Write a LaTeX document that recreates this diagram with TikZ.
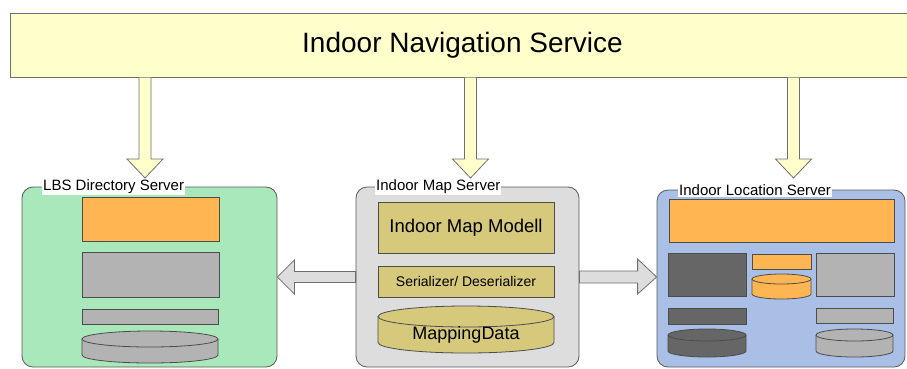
\documentclass[tikz,border=0pt]{standalone}
\usepackage{fontspec}
\setmainfont{Liberation Sans}
\usetikzlibrary{calc}
\definecolor{barY}{HTML}{FFFFCC}
\definecolor{bordG}{HTML}{6E6E6E}
\definecolor{lbsG}{HTML}{A8E8BA}
\definecolor{imsG}{HTML}{DDDDDD}
\definecolor{ilsB}{HTML}{AABFE5}
\definecolor{orng}{HTML}{FFB652}
\definecolor{khak}{HTML}{D6C97C}
\definecolor{gryL}{HTML}{B3B3B3}
\definecolor{gryD}{HTML}{666666}
\tikzset{
  px/.style={x=1pt,y=-1pt},
  server/.style={draw=bordG!80!black,line width=0.8pt,rounded corners=11pt,inner sep=0pt},
  srvlabel/.style={fill=white,inner sep=1pt,anchor=west,font=\fontsize{15}{15}\selectfont},
  part/.style={draw=black!70,line width=0.8pt,inner sep=0pt},
  barrow/.style={draw=bordG,line width=0.8pt,fill=imsG,line join=miter},
  darrow/.style={draw=bordG,line width=0.8pt,fill=barY,line join=miter},
  cylline/.style={draw=black!70,line width=0.8pt}
}
% cylinder: name, x1, x2, ytop-center, ybottom-center, ry, fill
\newcommand{\drumshape}[7]{%
  \pgfmathsetmacro{\rxx}{(#3-#2)/2}%
  \pgfmathsetmacro{\cxx}{(#3+#2)/2}%
  \fill[#7] (#2,#4) -- (#2,#5) arc[start angle=180,end angle=360,x radius=\rxx pt,y radius=#6 pt] -- (#3,#4) -- cycle;
  \draw[cylline] (#2,#4) -- (#2,#5) arc[start angle=180,end angle=360,x radius=\rxx pt,y radius=#6 pt] -- (#3,#4);
  \draw[cylline,fill=#7] (\cxx,#4) ellipse[x radius=\rxx pt,y radius=#6 pt];
  \coordinate (#1) at (\cxx,{(#4+#5)/2});
}
\begin{document}
\begin{tikzpicture}[px]
\useasboundingbox (0,0) rectangle (907,368);
% top bar
\node[draw=bordG,line width=1pt,fill=barY,minimum width=905pt,minimum height=64pt,inner sep=0pt,
      font=\fontsize{28}{28}\selectfont] (nav) at (462.5,45) {Indoor Navigation Service};

% servers
\node[server,fill=lbsG,minimum width=255pt,minimum height=180pt] (lbs) at (149.5,277) {};
\node[server,fill=imsG,minimum width=223pt,minimum height=180pt] (ims) at (467.5,277) {};
\node[server,fill=ilsB,minimum width=248pt,minimum height=177pt] (ils) at (781,278.5) {};

\node[srvlabel] (lbsl) at (42,187) {LBS Directory Server};
\node[srvlabel] (imsl) at (375,187) {Indoor Map Server};
\node[srvlabel] (ilsl) at (678,190) {Indoor Location Server};

% down arrows
\coordinate (t1) at (145,178);
\coordinate (t2) at (470.5,178);
\coordinate (t3) at (793.5,178);
\foreach \t in {t1,t2,t3}{
  \draw[darrow] ($(\t |- nav.south)+(-6,0)$) -- ($(\t)+(-6,-19)$) -- ($(\t)+(-18,-19)$) -- (\t)
     -- ($(\t)+(18,-19)$) -- ($(\t)+(6,-19)$) -- ($(\t |- nav.south)+(6,0)$);
}

% horizontal arrows
\draw[barrow] ($(ims.west)+(0,-5.5)$) -- ($(lbs.east)+(17,-5.5)$) -- ($(lbs.east)+(17,-17)$) -- (lbs.east)
   -- ($(lbs.east)+(17,17)$) -- ($(lbs.east)+(17,5.5)$) -- ($(ims.west)+(0,5.5)$) -- cycle;
\coordinate (rt) at (ils.west |- ims.east);
\draw[barrow] ($(ims.east)+(0,-6)$) -- ($(rt)+(-19,-6)$) -- ($(rt)+(-19,-18)$) -- (rt)
   -- ($(rt)+(-19,17)$) -- ($(rt)+(-19,6)$) -- ($(ims.east)+(0,6)$) -- cycle;

% LBS parts
\node[part,fill=orng,minimum width=137pt,minimum height=44pt] (l1) at (150.5,219) {};
\node[part,fill=gryL,minimum width=137pt,minimum height=45pt] (l2) at (150.5,274.5) {};
\node[part,fill=gryL,minimum width=136pt,minimum height=15pt] (l3) at (150,316.5) {};
\drumshape{l4}{82}{218}{339}{355}{8}{gryL}

% IMS parts
\node[part,fill=khak,minimum width=176pt,minimum height=51pt,font=\fontsize{18.5}{18.5}\selectfont] (m1) at (466,227.5) {Indoor Map Modell};
\node[part,fill=khak,minimum width=176pt,minimum height=31pt,font=\fontsize{14}{14}\selectfont] (m2) at (466,281.5) {Serializer/ Deserializer};
\drumshape{m3c}{378}{554}{316.5}{342.5}{10.5}{khak}
\node[font=\fontsize{18}{18}\selectfont] (m3) at (466,335) {MappingData};

% ILS parts
\node[part,fill=orng,minimum width=225pt,minimum height=43pt] (i1) at (781.5,220.5) {};
\node[part,fill=gryD,minimum width=78pt,minimum height=43pt] (i2) at (707,274.5) {};
\node[part,fill=orng,minimum width=59pt,minimum height=15pt] (i3) at (781.5,261.5) {};
\drumshape{i4}{752}{811}{279}{294}{5}{orng}
\node[part,fill=gryL,minimum width=78pt,minimum height=43pt] (i5) at (855,274.5) {};
\node[part,fill=gryD,minimum width=78pt,minimum height=16pt] (i6) at (707,316) {};
\node[part,fill=gryL,minimum width=77pt,minimum height=15pt] (i7) at (854.5,315.5) {};
\drumshape{i8}{668}{746}{335}{351}{6}{gryD}
\drumshape{i9}{816}{893}{335}{351}{6}{gryL}
\end{tikzpicture}
\end{document}
